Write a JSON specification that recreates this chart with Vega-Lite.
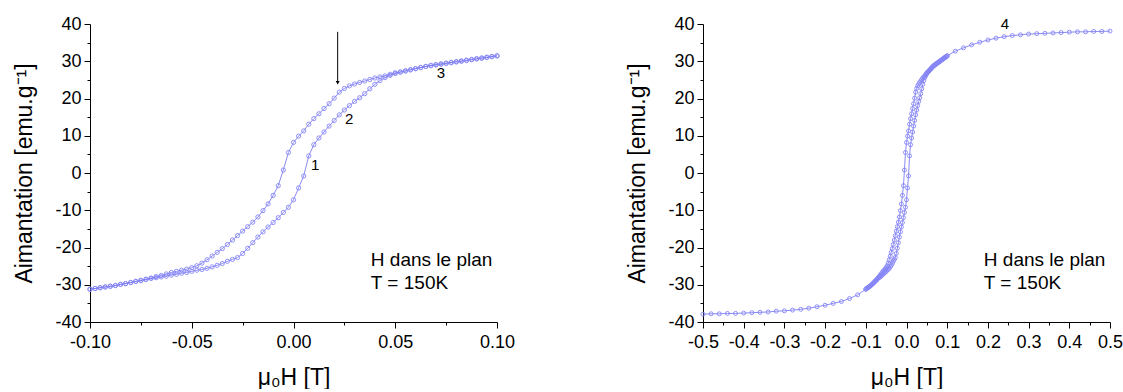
{
  "$schema": "https://vega.github.io/schema/vega-lite/v6.json",
  "background": "white",
  "padding": {"left": 13, "top": 15, "right": 0, "bottom": 0},
  "spacing": 111,
  "config": {
    "view": {"stroke": null},
    "font": "Liberation Sans",
    "axis": {
      "grid": false, "domainColor": "black", "domainWidth": 1, "tickColor": "black", "tickWidth": 1,
      "labelColor": "black", "titleColor": "black", "labelFont": "Liberation Sans", "titleFont": "Liberation Sans",
      "labelFontSize": 18, "titleFontSize": 23, "titleFontWeight": "normal", "labelPadding": 2,
      "labelOverlap": false, "labelFlush": false
    },
    "axisX": {"titlePadding": 15, "labelPadding": 5},
    "axisY": {"titlePadding": 18, "labelPadding": 3}
  },
  "datasets": {
    "mag": [
      {"b":"d","h":0.1,"m":31.5},{"b":"d","h":0.0975,"m":31.3},{"b":"d","h":0.095,"m":31.1},{"b":"d","h":0.0925,"m":30.9},{"b":"d","h":0.09,"m":30.7},
      {"b":"d","h":0.0875,"m":30.5},{"b":"d","h":0.085,"m":30.3},{"b":"d","h":0.0825,"m":30.1},{"b":"d","h":0.08,"m":29.9},{"b":"d","h":0.0775,"m":29.7},
      {"b":"d","h":0.075,"m":29.5},{"b":"d","h":0.0725,"m":29.3},{"b":"d","h":0.07,"m":29.1},{"b":"d","h":0.0675,"m":28.9},{"b":"d","h":0.065,"m":28.6},
      {"b":"d","h":0.0625,"m":28.3},{"b":"d","h":0.06,"m":28.0},{"b":"d","h":0.0575,"m":27.7},{"b":"d","h":0.055,"m":27.4},{"b":"d","h":0.0525,"m":27.1},
      {"b":"d","h":0.05,"m":26.9},{"b":"d","h":0.0475,"m":26.5},{"b":"d","h":0.045,"m":26.1},{"b":"d","h":0.0425,"m":25.8},{"b":"d","h":0.04,"m":25.5},
      {"b":"d","h":0.0375,"m":25.1},{"b":"d","h":0.035,"m":24.7},{"b":"d","h":0.0325,"m":24.3},{"b":"d","h":0.03,"m":23.9},{"b":"d","h":0.0275,"m":23.4},
      {"b":"d","h":0.025,"m":22.7},{"b":"d","h":0.0225,"m":21.7},{"b":"d","h":0.02,"m":20.1},{"b":"d","h":0.0175,"m":18.6},{"b":"d","h":0.015,"m":17.3},
      {"b":"d","h":0.0125,"m":15.9},{"b":"d","h":0.01,"m":14.6},{"b":"d","h":0.0075,"m":13.1},{"b":"d","h":0.005,"m":11.3},{"b":"d","h":0.0025,"m":9.9},
      {"b":"d","h":0.0,"m":8.2},{"b":"d","h":-0.0025,"m":5.5},{"b":"d","h":-0.005,"m":0.8},{"b":"d","h":-0.0075,"m":-3.4},{"b":"d","h":-0.01,"m":-6.0},
      {"b":"d","h":-0.0125,"m":-8.3},{"b":"d","h":-0.015,"m":-10.1},{"b":"d","h":-0.0175,"m":-11.8},{"b":"d","h":-0.02,"m":-13.2},{"b":"d","h":-0.0225,"m":-14.4},
      {"b":"d","h":-0.025,"m":-15.6},{"b":"d","h":-0.0275,"m":-16.8},{"b":"d","h":-0.03,"m":-18.0},{"b":"d","h":-0.0325,"m":-19.2},{"b":"d","h":-0.035,"m":-20.3},
      {"b":"d","h":-0.0375,"m":-21.3},{"b":"d","h":-0.04,"m":-22.3},{"b":"d","h":-0.0425,"m":-23.3},{"b":"d","h":-0.045,"m":-24.2},{"b":"d","h":-0.0475,"m":-24.9},
      {"b":"d","h":-0.05,"m":-25.4},{"b":"d","h":-0.0525,"m":-25.8},{"b":"d","h":-0.055,"m":-26.1},{"b":"d","h":-0.0575,"m":-26.4},{"b":"d","h":-0.06,"m":-26.7},
      {"b":"d","h":-0.0625,"m":-27.1},{"b":"d","h":-0.065,"m":-27.5},{"b":"d","h":-0.0675,"m":-27.8},{"b":"d","h":-0.07,"m":-28.2},{"b":"d","h":-0.0725,"m":-28.5},
      {"b":"d","h":-0.075,"m":-28.8},{"b":"d","h":-0.0775,"m":-29.1},{"b":"d","h":-0.08,"m":-29.4},{"b":"d","h":-0.0825,"m":-29.7},{"b":"d","h":-0.085,"m":-29.9},
      {"b":"d","h":-0.0875,"m":-30.2},{"b":"d","h":-0.09,"m":-30.4},{"b":"d","h":-0.0925,"m":-30.6},{"b":"d","h":-0.095,"m":-30.8},{"b":"d","h":-0.0975,"m":-31.0},
      {"b":"d","h":-0.1,"m":-31.2},
      {"b":"a","h":-0.1,"m":-31.2},{"b":"a","h":-0.0975,"m":-31.0},{"b":"a","h":-0.095,"m":-30.8},{"b":"a","h":-0.0925,"m":-30.6},{"b":"a","h":-0.09,"m":-30.4},
      {"b":"a","h":-0.0875,"m":-30.2},{"b":"a","h":-0.085,"m":-29.9},{"b":"a","h":-0.0825,"m":-29.7},{"b":"a","h":-0.08,"m":-29.4},{"b":"a","h":-0.0775,"m":-29.1},
      {"b":"a","h":-0.075,"m":-28.9},{"b":"a","h":-0.0725,"m":-28.6},{"b":"a","h":-0.07,"m":-28.3},{"b":"a","h":-0.0675,"m":-28.1},{"b":"a","h":-0.065,"m":-27.9},
      {"b":"a","h":-0.0625,"m":-27.7},{"b":"a","h":-0.06,"m":-27.4},{"b":"a","h":-0.0575,"m":-27.2},{"b":"a","h":-0.055,"m":-26.9},{"b":"a","h":-0.0525,"m":-26.7},
      {"b":"a","h":-0.05,"m":-26.4},{"b":"a","h":-0.0475,"m":-26.1},{"b":"a","h":-0.045,"m":-25.9},{"b":"a","h":-0.0425,"m":-25.6},{"b":"a","h":-0.04,"m":-25.2},
      {"b":"a","h":-0.0375,"m":-24.8},{"b":"a","h":-0.035,"m":-24.3},{"b":"a","h":-0.0325,"m":-23.7},{"b":"a","h":-0.03,"m":-23.2},{"b":"a","h":-0.0275,"m":-22.7},
      {"b":"a","h":-0.025,"m":-21.6},{"b":"a","h":-0.0225,"m":-20.2},{"b":"a","h":-0.02,"m":-18.7},{"b":"a","h":-0.0175,"m":-17.2},{"b":"a","h":-0.015,"m":-15.8},
      {"b":"a","h":-0.0125,"m":-14.5},{"b":"a","h":-0.01,"m":-13.3},{"b":"a","h":-0.0075,"m":-12.0},{"b":"a","h":-0.005,"m":-10.6},{"b":"a","h":-0.0025,"m":-9.2},
      {"b":"a","h":0.0,"m":-7.2},{"b":"a","h":0.0025,"m":-4.0},{"b":"a","h":0.005,"m":-0.8},{"b":"a","h":0.0075,"m":4.6},{"b":"a","h":0.01,"m":7.6},
      {"b":"a","h":0.0125,"m":9.4},{"b":"a","h":0.015,"m":11.0},{"b":"a","h":0.0175,"m":12.6},{"b":"a","h":0.02,"m":14.1},{"b":"a","h":0.0225,"m":15.6},
      {"b":"a","h":0.025,"m":16.9},{"b":"a","h":0.0275,"m":18.1},{"b":"a","h":0.03,"m":19.2},{"b":"a","h":0.0325,"m":20.2},{"b":"a","h":0.035,"m":21.3},
      {"b":"a","h":0.0375,"m":22.6},{"b":"a","h":0.04,"m":23.8},{"b":"a","h":0.0425,"m":24.8},{"b":"a","h":0.045,"m":25.6},{"b":"a","h":0.0475,"m":26.2},
      {"b":"a","h":0.05,"m":26.7},{"b":"a","h":0.0525,"m":27.1},{"b":"a","h":0.055,"m":27.4},{"b":"a","h":0.0575,"m":27.7},{"b":"a","h":0.06,"m":28.0},
      {"b":"a","h":0.0625,"m":28.3},{"b":"a","h":0.065,"m":28.6},{"b":"a","h":0.0675,"m":28.8},{"b":"a","h":0.07,"m":29.0},{"b":"a","h":0.0725,"m":29.2},
      {"b":"a","h":0.075,"m":29.4},{"b":"a","h":0.0775,"m":29.6},{"b":"a","h":0.08,"m":29.8},{"b":"a","h":0.0825,"m":30.0},{"b":"a","h":0.085,"m":30.2},
      {"b":"a","h":0.0875,"m":30.4},{"b":"a","h":0.09,"m":30.6},{"b":"a","h":0.0925,"m":30.8},{"b":"a","h":0.095,"m":31.0},{"b":"a","h":0.0975,"m":31.2},
      {"b":"a","h":0.1,"m":31.4},
      {"b":"d","h":0.12,"m":32.7},{"b":"d","h":0.14,"m":33.6},{"b":"d","h":0.16,"m":34.4},{"b":"d","h":0.18,"m":35.1},{"b":"d","h":0.2,"m":35.7},
      {"b":"d","h":0.22,"m":36.2},{"b":"d","h":0.24,"m":36.6},{"b":"d","h":0.26,"m":36.9},{"b":"d","h":0.28,"m":37.1},{"b":"d","h":0.3,"m":37.3},
      {"b":"d","h":0.32,"m":37.4},{"b":"d","h":0.34,"m":37.5},{"b":"d","h":0.36,"m":37.6},{"b":"d","h":0.38,"m":37.7},{"b":"d","h":0.4,"m":37.8},
      {"b":"d","h":0.42,"m":37.9},{"b":"d","h":0.44,"m":37.9},{"b":"d","h":0.46,"m":38.0},{"b":"d","h":0.48,"m":38.0},{"b":"d","h":0.5,"m":38.1},
      {"b":"d","h":-0.12,"m":-32.7},{"b":"d","h":-0.14,"m":-33.7},{"b":"d","h":-0.16,"m":-34.5},{"b":"d","h":-0.18,"m":-35.0},{"b":"d","h":-0.2,"m":-35.5},
      {"b":"d","h":-0.22,"m":-35.9},{"b":"d","h":-0.24,"m":-36.3},{"b":"d","h":-0.26,"m":-36.6},{"b":"d","h":-0.28,"m":-36.8},{"b":"d","h":-0.3,"m":-37.0},
      {"b":"d","h":-0.32,"m":-37.1},{"b":"d","h":-0.34,"m":-37.3},{"b":"d","h":-0.36,"m":-37.4},{"b":"d","h":-0.38,"m":-37.5},{"b":"d","h":-0.4,"m":-37.6},
      {"b":"d","h":-0.42,"m":-37.7},{"b":"d","h":-0.44,"m":-37.7},{"b":"d","h":-0.46,"m":-37.8},{"b":"d","h":-0.48,"m":-37.8},{"b":"d","h":-0.5,"m":-37.9}
    ]
  },
  "hconcat": [
    {
      "width": 407, "height": 298,
      "encoding": {
        "x": {"field": "h", "type": "quantitative",
          "scale": {"domain": [-0.1, 0.1], "nice": false, "zero": false},
          "axis": {"title": "μ₀H [T]",
            "values": [-0.1, -0.075, -0.05, -0.025, 0, 0.025, 0.05, 0.075, 0.1],
            "labelExpr": "abs(datum.value*20 - round(datum.value*20)) < 0.001 ? replace(format(datum.value, '.2f'), '−', '-') : ''",
            "tickSize": {"condition": {"test": "abs(datum.value*20 - round(datum.value*20)) < 0.001", "value": 6}, "value": 3}}},
        "y": {"field": "m", "type": "quantitative",
          "scale": {"domain": [-40, 40], "nice": false},
          "axis": {"title": "Aimantation [emu.g⁻¹]",
            "values": [-40, -35, -30, -25, -20, -15, -10, -5, 0, 5, 10, 15, 20, 25, 30, 35, 40],
            "labelExpr": "datum.value % 10 == 0 ? replace(format(datum.value, 'd'), '−', '-') : ''",
            "tickSize": {"condition": {"test": "datum.value % 10 == 0", "value": 6}, "value": 3}}}
      },
      "layer": [
        {"data": {"name": "mag"}, "transform": [{"filter": "abs(datum.h) <= 0.1001"}],
         "mark": {"type": "line", "stroke": "#6c6cf0", "strokeWidth": 0.8},
         "encoding": {"detail": {"field": "b"}}},
        {"data": {"name": "mag"}, "transform": [{"filter": "abs(datum.h) <= 0.1001"}],
         "mark": {"type": "point", "shape": "circle", "filled": false, "stroke": "#8686f7", "strokeWidth": 0.9, "size": 18, "opacity": 1}},
        {"data": {"values": [{"h": 0.0107, "m": 2.1, "t": "1"}, {"h": 0.0274, "m": 14.4, "t": "2"}, {"h": 0.0725, "m": 26.8, "t": "3"}]},
         "mark": {"type": "text", "fontSize": 15, "color": "black", "align": "center", "baseline": "middle"},
         "encoding": {"text": {"field": "t"}}},
        {"data": {"values": [{"h": 0.038, "m": -23.3, "t": "H dans le plan"}, {"h": 0.038, "m": -29.6, "t": "T = 150K"}]},
         "mark": {"type": "text", "fontSize": 19, "color": "black", "align": "left", "baseline": "middle"},
         "encoding": {"text": {"field": "t"}}},
        {"data": {"values": [{"h": 0.0217, "m": 37.9, "m2": 24.6}]},
         "mark": {"type": "rule", "color": "black", "strokeWidth": 1},
         "encoding": {"y2": {"field": "m2"}}},
        {"data": {"values": [{"h": 0.0217, "m": 24.2}]},
         "mark": {"type": "point", "shape": "triangle-down", "filled": true, "color": "black", "size": 16, "opacity": 1}}
      ]
    },
    {
      "width": 407, "height": 298,
      "encoding": {
        "x": {"field": "h", "type": "quantitative",
          "scale": {"domain": [-0.5, 0.5], "nice": false, "zero": false},
          "axis": {"title": "μ₀H [T]",
            "values": [-0.5, -0.45, -0.4, -0.35, -0.3, -0.25, -0.2, -0.15, -0.1, -0.05, 0, 0.05, 0.1, 0.15, 0.2, 0.25, 0.3, 0.35, 0.4, 0.45, 0.5],
            "labelExpr": "abs(datum.value*10 - round(datum.value*10)) < 0.001 ? replace(format(datum.value, '.1f'), '−', '-') : ''",
            "tickSize": {"condition": {"test": "abs(datum.value*10 - round(datum.value*10)) < 0.001", "value": 6}, "value": 3}}},
        "y": {"field": "m", "type": "quantitative",
          "scale": {"domain": [-40, 40], "nice": false},
          "axis": {"title": "Aimantation [emu.g⁻¹]",
            "values": [-40, -35, -30, -25, -20, -15, -10, -5, 0, 5, 10, 15, 20, 25, 30, 35, 40],
            "labelExpr": "datum.value % 10 == 0 ? replace(format(datum.value, 'd'), '−', '-') : ''",
            "tickSize": {"condition": {"test": "datum.value % 10 == 0", "value": 6}, "value": 3}}}
      },
      "layer": [
        {"data": {"name": "mag"},
         "mark": {"type": "line", "stroke": "#6c6cf0", "strokeWidth": 0.8},
         "encoding": {"detail": {"field": "b"}}},
        {"data": {"name": "mag"},
         "mark": {"type": "point", "shape": "circle", "filled": false, "stroke": "#8686f7", "strokeWidth": 0.9, "size": 16, "opacity": 1}},
        {"data": {"values": [{"h": 0.242, "m": 40.0, "t": "4"}]},
         "mark": {"type": "text", "fontSize": 15, "color": "black", "align": "center", "baseline": "middle"},
         "encoding": {"text": {"field": "t"}}},
        {"data": {"values": [{"h": 0.19, "m": -23.3, "t": "H dans le plan"}, {"h": 0.19, "m": -29.6, "t": "T = 150K"}]},
         "mark": {"type": "text", "fontSize": 19, "color": "black", "align": "left", "baseline": "middle"},
         "encoding": {"text": {"field": "t"}}}
      ]
    }
  ]
}
